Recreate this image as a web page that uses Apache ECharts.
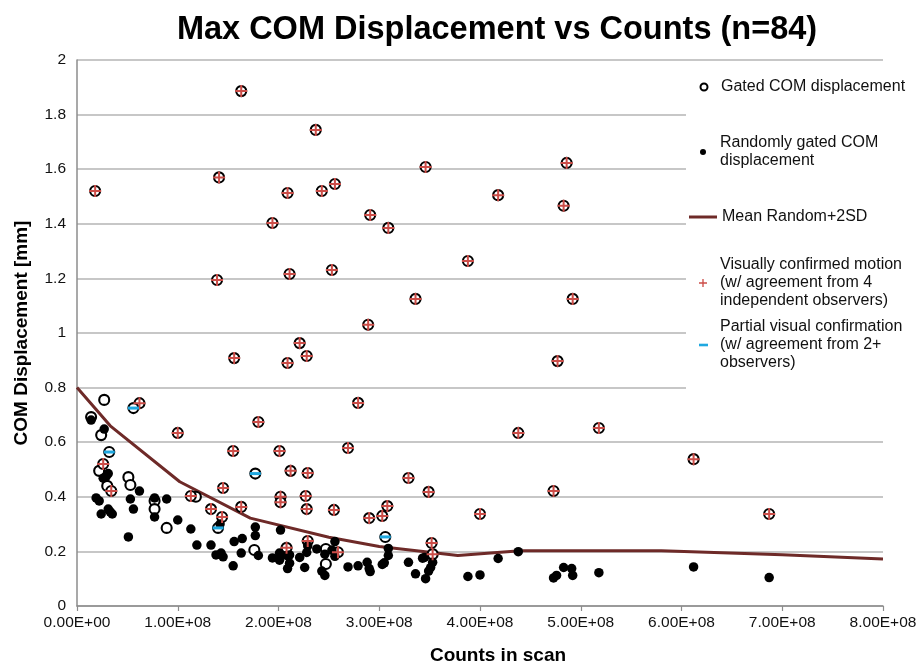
<!DOCTYPE html>
<html><head><meta charset="utf-8">
<script src="https://cdn.jsdelivr.net/npm/echarts@6/dist/echarts.min.js"></script>
<style>html,body{margin:0;padding:0;background:#fff}#c{width:919px;height:664px}</style>
</head><body><div id="c"></div>
<script>
// x values are counts in units of 1e8, y values are COM displacement in mm
const chartTitle = 'Max COM Displacement vs Counts (n=84)';
const xAxisTitle = 'Counts in scan';
const yAxisTitle = 'COM Displacement [mm]';

const gatedOther = [[0.27,0.755],[0.14,0.692],[0.24,0.626],[0.22,0.495],[0.51,0.472],[0.53,0.443],[0.30,0.44],[0.77,0.385],[0.77,0.355],[0.89,0.286],[1.18,0.40],[1.76,0.205],[2.47,0.209],[2.47,0.154]];

const confirmedMotion = [[0.18,1.52],[1.41,1.57],[1.63,1.886],[1.39,1.194],[1.94,1.403],[2.09,1.513],[2.37,1.744],[2.43,1.52],[2.56,1.546],[2.11,1.216],[2.53,1.231],[2.91,1.432],[3.09,1.385],[3.46,1.608],[3.88,1.264],[4.18,1.505],[4.86,1.623],[4.83,1.466],[4.92,1.125],[3.36,1.125],[2.89,1.03],[2.21,0.963],[1.56,0.908],[2.09,0.89],[2.28,0.916],[4.77,0.897],[2.79,0.744],[2.69,0.579],[4.38,0.634],[5.18,0.652],[6.12,0.538],[6.87,0.337],[2.01,0.568],[2.12,0.495],[2.29,0.487],[3.29,0.469],[3.49,0.418],[4.73,0.421],[2.02,0.40],[2.02,0.38],[2.27,0.403],[2.28,0.355],[2.55,0.352],[2.90,0.322],[3.03,0.33],[3.08,0.366],[4.00,0.337],[3.52,0.231],[2.29,0.238],[2.08,0.213],[2.59,0.197],[3.53,0.19],[0.62,0.743],[1.00,0.634],[0.26,0.52],[0.34,0.421],[1.13,0.403],[1.33,0.355],[1.80,0.674],[1.55,0.568],[1.45,0.432],[1.63,0.363],[1.44,0.326]];

const partialConfirmation = [[0.56,0.725],[0.32,0.564],[1.77,0.485],[1.40,0.286],[3.06,0.253]];

const randomGated = [[0.14,0.681],[0.27,0.648],[0.26,0.468],[0.29,0.475],[0.31,0.485],[0.19,0.396],[0.22,0.385],[0.24,0.337],[0.31,0.355],[0.33,0.345],[0.35,0.337],[0.53,0.392],[0.56,0.355],[0.51,0.253],[0.62,0.421],[0.77,0.396],[0.77,0.326],[0.89,0.392],[1.00,0.315],[1.13,0.282],[1.19,0.223],[1.33,0.223],[1.38,0.187],[1.43,0.194],[1.45,0.18],[1.42,0.30],[1.56,0.236],[1.64,0.247],[1.63,0.194],[1.55,0.147],[1.77,0.289],[1.77,0.258],[1.80,0.185],[1.94,0.176],[2.02,0.278],[2.01,0.194],[2.01,0.168],[2.08,0.185],[2.11,0.187],[2.11,0.157],[2.09,0.137],[2.21,0.178],[2.26,0.141],[2.28,0.196],[2.29,0.22],[2.38,0.209],[2.43,0.128],[2.46,0.112],[2.46,0.19],[2.53,0.205],[2.56,0.236],[2.56,0.182],[2.69,0.143],[2.79,0.147],[2.88,0.16],[2.90,0.137],[2.91,0.126],[3.03,0.152],[3.05,0.158],[3.09,0.211],[3.09,0.185],[3.29,0.16],[3.36,0.118],[3.45,0.178],[3.46,0.10],[3.53,0.16],[3.51,0.141],[3.49,0.128],[3.43,0.175],[3.88,0.108],[4.00,0.114],[4.18,0.174],[4.38,0.199],[4.73,0.103],[4.76,0.112],[4.83,0.141],[4.91,0.137],[4.92,0.112],[5.18,0.122],[6.12,0.143],[6.87,0.104]];

const meanRandom2SD = [[0,0.80],[0.33,0.66],[1.02,0.455],[1.72,0.322],[2.5,0.252],[3.0,0.218],[3.5,0.197],[3.78,0.185],[4.4,0.202],[5.8,0.202],[7.0,0.188],[8.0,0.172]];

const seriesNames = ['Gated COM displacement','Randomly gated COM displacement','Mean Random+2SD','Visually confirmed motion (w/ agreement from 4 independent observers)','Partial visual confirmation (w/ agreement from 2+ observers)'];
const legendLabels = ['Gated COM displacement','Randomly gated COM\ndisplacement','Mean Random+2SD','Visually confirmed motion\n(w/ agreement from 4\nindependent observers)','Partial visual confirmation\n(w/ agreement from 2+\nobservers)'];

const FONT = '"Liberation Sans", Arial, Helvetica, sans-serif';
const PLUS = 'path://M5,0H7V5H12V7H7V12H5V7H0V5H5Z';
const MINUS = 'path://M0,0H10V2.6H0Z';

function sci(v){
  const s = (v*1e8).toExponential(2);
  const parts = s.split('e');
  const sign = parts[1][0];
  const d = parts[1].slice(1).padStart(2,'0');
  return parts[0] + 'E' + sign + d;
}

const LH = 18;
function legendAt(idx, top, left, icon, w, h, padLeft){
  const lines = legendLabels[idx].split('\n').length;
  return {
    show: true, orient: 'vertical', left: left, top: top - LH*lines + 9, padding: 0,
    itemWidth: w, itemHeight: h, selectedMode: false,
    data: [{name: seriesNames[idx], icon: icon}],
    formatter: function(){ return legendLabels[idx]; },
    textStyle: {fontFamily: FONT, fontSize: 16, color: '#111', lineHeight: LH,
      padding: [LH*(lines-1), 0, 0, padLeft]}
  };
}

const chart = echarts.init(document.getElementById('c'), null, {renderer: 'canvas'});
chart.setOption({
  backgroundColor: '#fff',
  animation: false,
  title: {text: chartTitle, left: 492, top: 9, textAlign: 'center',
    textStyle: {fontFamily: FONT, fontSize: 32.5, fontWeight: 'bold', color: '#000'}},
  grid: {left: 77, right: 36, top: 60, bottom: 58, containLabel: false, outerBoundsMode: 'none'},
  graphic: [{type: 'rect', z: 3, silent: true, shape: {x: 686, y: 72, width: 233, height: 323}, style: {fill: '#fff'}}],
  legend: [
    legendAt(0, 87, 699.5, 'circle', 7, 7, 8.5),
    legendAt(1, 152, 700, 'circle', 6, 6, 9),
    legendAt(2, 217, 689, 'rect', 28, 3, 0),
    legendAt(3, 283, 699, PLUS, 8, 8, 8),
    legendAt(4, 345, 699, 'rect', 9, 2.6, 7)
  ],
  xAxis: {type: 'value', min: 0, max: 8, interval: 1,
    name: xAxisTitle, nameLocation: 'middle', nameGap: 40,
    nameTextStyle: {fontFamily: FONT, fontSize: 19, fontWeight: 'bold', color: '#000', padding: [0,0,0,36]},
    axisLine: {show: true, lineStyle: {color: '#8c8c8c', width: 1.5}},
    axisTick: {show: true, length: 5, lineStyle: {color: '#8c8c8c', width: 1.2}},
    axisLabel: {formatter: sci, fontFamily: FONT, fontSize: 15.5, color: '#111', margin: 9},
    splitLine: {show: false}},
  yAxis: {type: 'value', min: 0, max: 2, interval: 0.2,
    name: yAxisTitle, nameLocation: 'middle', nameGap: 46, nameRotate: 90,
    nameTextStyle: {fontFamily: FONT, fontSize: 19, fontWeight: 'bold', color: '#000'},
    axisLine: {show: true, lineStyle: {color: '#8c8c8c', width: 1.5}},
    axisTick: {show: false},
    axisLabel: {fontFamily: FONT, fontSize: 15.5, color: '#111', margin: 11},
    splitLine: {show: true, lineStyle: {color: '#b5b5b5', width: 1.5}}},
  series: [
    {name: seriesNames[2], type: 'line', data: meanRandom2SD, symbol: 'none', z: 1,
      lineStyle: {color: '#6e2a28', width: 3}, itemStyle: {color: '#6e2a28'}},
    {name: seriesNames[0], type: 'scatter', data: gatedOther.concat(confirmedMotion, partialConfirmation),
      symbol: 'circle', symbolSize: 10, z: 2,
      itemStyle: {color: '#fff', borderColor: '#000', borderWidth: 2.1, opacity: 1}},
    {name: seriesNames[1], type: 'scatter', data: randomGated, symbol: 'circle', symbolSize: 9.5, z: 2,
      itemStyle: {color: '#000', opacity: 1}},
    {name: seriesNames[3], type: 'scatter', data: confirmedMotion, symbol: PLUS, symbolSize: 12, z: 2,
      itemStyle: {color: '#cc4d48', opacity: 1}},
    {name: seriesNames[4], type: 'scatter', data: partialConfirmation, symbol: MINUS, symbolSize: [11, 3], z: 2,
      itemStyle: {color: '#1fa8e0', opacity: 1}}
  ]
});
</script>
</body></html>
